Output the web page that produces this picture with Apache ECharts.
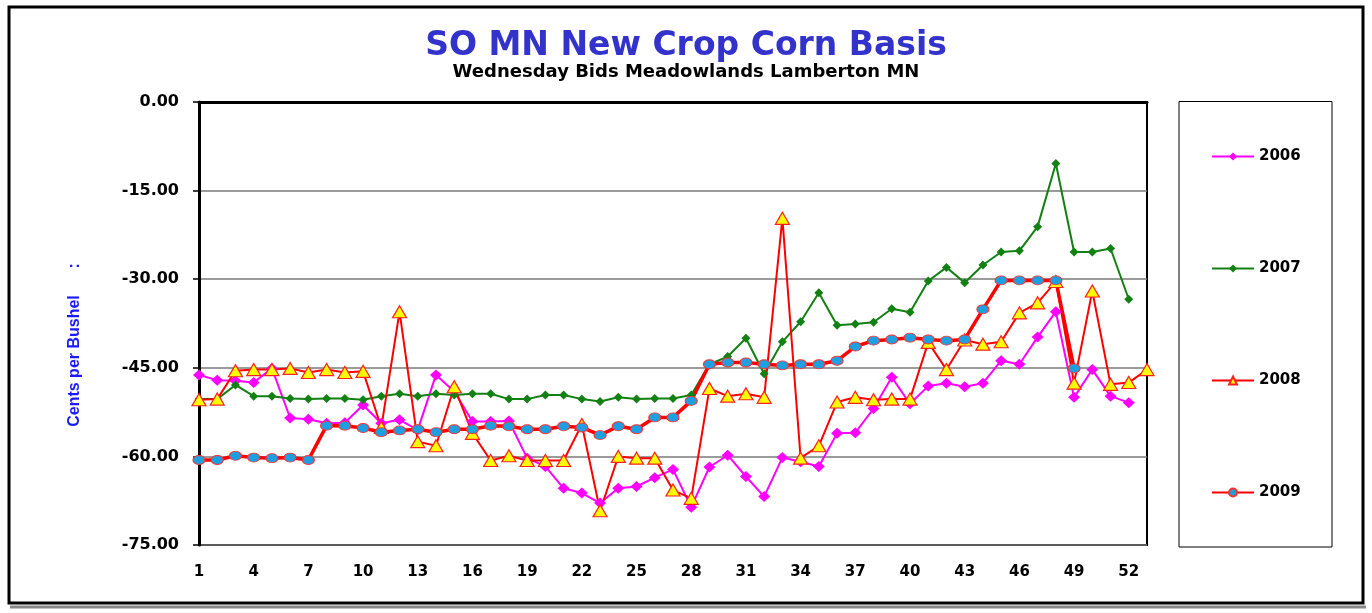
<!DOCTYPE html>
<html>
<head>
<meta charset="utf-8">
<script src="https://cdn.jsdelivr.net/npm/echarts@6/dist/echarts.min.js"></script>
<style>
html,body{margin:0;padding:0;background:#fff;}
#chart{width:1372px;height:613px;}
</style>
</head>
<body>
<div id="chart"></div>
<script>
var weeks = [];
for (var i = 1; i <= 53; i++) weeks.push(String(i));

var s2006 = [-46.2,-47.1,-47.2,-47.5,-45.1,-53.5,-53.7,-54.4,-54.3,-51.3,-54.4,-53.8,-55.5,-46.2,-49.0,-54.1,-54.1,-54.0,
  -60.3,-61.7,-65.4,-66.2,-67.9,-65.4,-65.1,-63.6,-62.2,-68.6,-61.8,-59.8,-63.4,-66.8,-60.2,-60.9,-61.7,-56.1,
  -56.0,-51.9,-46.6,-51.1,-48.1,-47.6,-48.2,-47.6,-43.8,-44.4,-39.8,-35.5,-50.0,-45.3,-49.8,-50.9];
var s2007 = [-50.3,-50.3,-47.9,-49.8,-49.8,-50.2,-50.3,-50.2,-50.2,-50.4,-49.8,-49.4,-49.8,-49.4,-49.6,-49.4,-49.4,-50.3,
  -50.3,-49.6,-49.6,-50.3,-50.7,-50.0,-50.3,-50.2,-50.2,-49.6,-44.4,-43.1,-40.0,-46.0,-40.6,-37.2,-32.3,-37.8,
  -37.6,-37.3,-35.0,-35.6,-30.3,-28.0,-30.6,-27.6,-25.4,-25.2,-21.1,-10.4,-25.4,-25.4,-24.8,-33.4];
var s2008 = [-50.4,-50.3,-45.5,-45.3,-45.3,-45.1,-45.8,-45.3,-45.8,-45.6,-55.1,-35.5,-57.5,-58.2,-48.2,-56.1,-60.7,-59.9,
  -60.7,-60.7,-60.7,-54.6,-69.2,-60.0,-60.3,-60.3,-65.7,-67.1,-48.5,-49.8,-49.4,-50.0,-19.7,-60.3,-58.2,-50.8,
  -50.0,-50.4,-50.3,-50.3,-40.7,-45.3,-40.3,-41.0,-40.6,-35.7,-34.0,-30.4,-47.6,-32.0,-47.8,-47.5,-45.3];
var s2009 = [-60.6,-60.6,-59.9,-60.2,-60.3,-60.2,-60.6,-54.8,-54.8,-55.2,-55.9,-55.6,-55.4,-55.9,-55.4,-55.4,-54.8,-54.9,
  -55.4,-55.4,-54.9,-55.1,-56.4,-54.9,-55.4,-53.4,-53.4,-50.6,-44.4,-44.1,-44.1,-44.4,-44.6,-44.4,-44.4,-43.8,
  -41.4,-40.4,-40.2,-39.9,-40.2,-40.4,-40.2,-35.1,-30.2,-30.2,-30.2,-30.2,-45.1];

var FONT = 'DejaVu Sans';
var chart = echarts.init(document.getElementById('chart'), null, {renderer: 'canvas'});
chart.setOption({
  animation: false,
  backgroundColor: '#ffffff',
  title: [
    {text: 'SO MN New Crop Corn Basis', left: 'center', top: 25,
     textStyle: {fontFamily: FONT, fontWeight: 'bold', fontSize: 33, color: '#3333CC'}},
    {text: 'Wednesday Bids Meadowlands Lamberton MN', left: 'center', top: 58,
     textStyle: {fontFamily: FONT, fontWeight: 'bold', fontSize: 18, color: '#000'}}
  ],
  graphic: [
    {type: 'rect', shape: {x: 9, y: 7, width: 1354, height: 596},
     style: {fill: 'none', stroke: '#000', lineWidth: 3}, z: 100},
    {type: 'line', shape: {x1: 10, y1: 607, x2: 1366, y2: 607},
     style: {stroke: '#888', lineWidth: 3}, z: 100},
    {type: 'rect', shape: {x: 1179, y: 101.5, width: 153, height: 445.5},
     style: {fill: 'none', stroke: '#000', lineWidth: 1}, z: 1},
    {type: 'text', x: 75, y: 345, rotation: Math.PI / 2,
     style: {text: 'Cents per Bushel      :', fontFamily: 'Liberation Sans', fontWeight: 'bold',
             fontSize: 16, fill: '#1a1aff', align: 'center', verticalAlign: 'middle'}}
  ],
  legend: {
    orient: 'vertical', left: 1211, top: 149, padding: 0, itemWidth: 42, itemHeight: 10, itemGap: 97,
    textStyle: {fontFamily: FONT, fontWeight: 'bold', fontSize: 15, color: '#000'},
    data: ['2006', '2007', '2008', '2009']
  },
  grid: {left: 199, right: 225, top: 102, bottom: 68, show: true, borderColor: '#000', borderWidth: 2},
  xAxis: {
    type: 'category', data: weeks, boundaryGap: false,
    axisLine: {lineStyle: {color: '#000', width: 3}},
    axisTick: {show: false},
    axisLabel: {interval: 2, margin: 20, fontFamily: FONT, fontWeight: 'bold', fontSize: 15, color: '#000'},
    splitLine: {show: false}
  },
  yAxis: {
    type: 'value', min: -75, max: 0, interval: 15,
    axisLine: {show: true, lineStyle: {color: '#000', width: 3}},
    axisTick: {show: true, length: 6, lineStyle: {color: '#000', width: 1.5}},
    axisLabel: {margin: 20, fontFamily: FONT, fontWeight: 'bold', fontSize: 16, color: '#000',
      formatter: function (v) { return v.toFixed(2); }},
    splitLine: {show: true, lineStyle: {color: '#7a7a7a', width: 1.5}}
  },
  series: [
    {name: '2006', type: 'line', data: s2006, symbol: 'diamond', symbolSize: [12, 11], showAllSymbol: true,
     lineStyle: {color: '#FF00FF', width: 2}, itemStyle: {color: '#FF00FF'}},
    {name: '2007', type: 'line', data: s2007, symbol: 'diamond', symbolSize: [9, 9], showAllSymbol: true,
     lineStyle: {color: '#138013', width: 2}, itemStyle: {color: '#138013'}},
    {name: '2008', type: 'line', data: s2008, symbol: 'triangle', symbolSize: [14, 12], showAllSymbol: true,
     lineStyle: {color: '#FF0000', width: 2}, itemStyle: {color: '#FFFF00', borderColor: '#FF2020', borderWidth: 1.2}},
    {name: '2009', type: 'line', data: s2009, symbol: 'circle', symbolSize: [12, 9], showAllSymbol: true,
     lineStyle: {color: '#FF0000', width: 3.5}, itemStyle: {color: '#1E9FE0', borderColor: '#FF3030', borderWidth: 1}}
  ]
});
</script>
</body>
</html>
